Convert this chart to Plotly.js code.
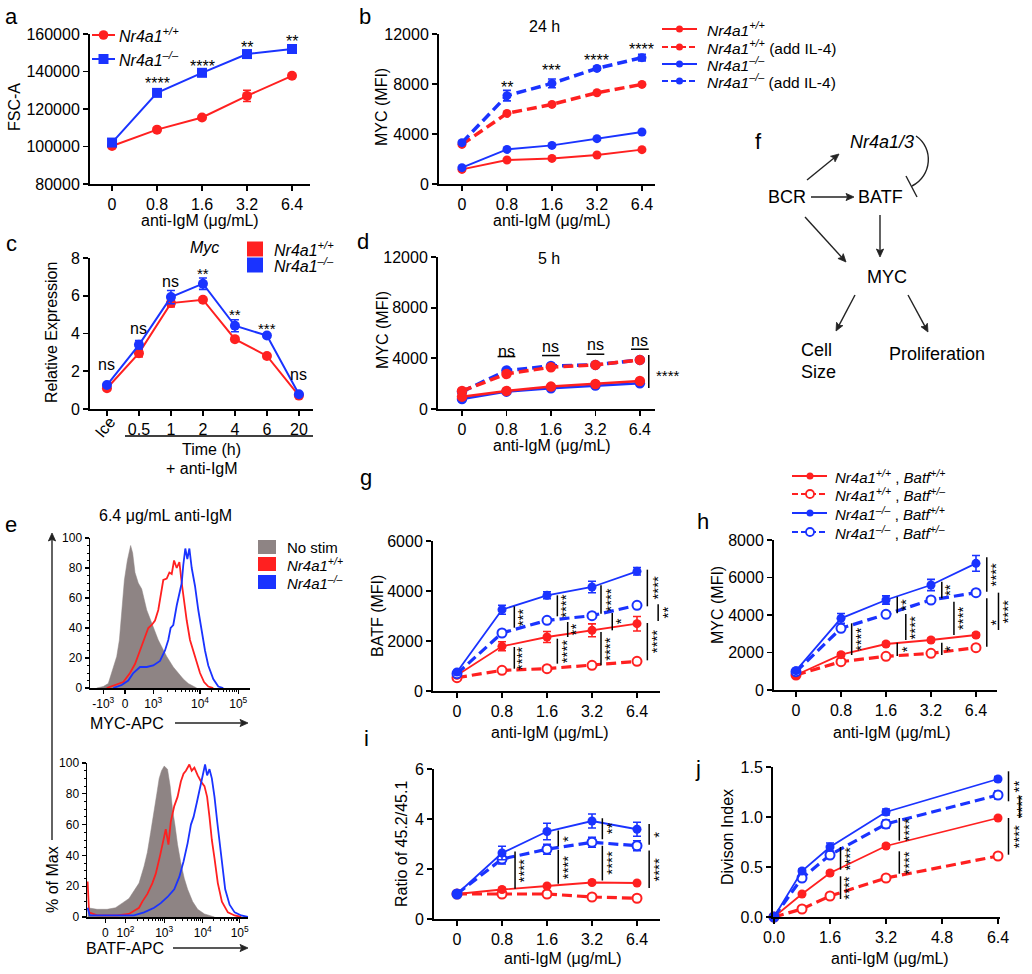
<!DOCTYPE html>
<html><head><meta charset="utf-8">
<script src="https://cdn.plot.ly/plotly-3.0.1.min.js"></script>
<style>html,body{margin:0;padding:0;background:#fff}#chart{width:1032px;height:974px}</style>
</head><body><div id="chart"></div>
<script>
const W=1032,H=974;
const FONT='"Liberation Sans", Arial, Helvetica, sans-serif';
const RED='#ff2020', BLUE='#1a33ff', GRAY='#8e8484', INK='#000';

// ---------------- data ----------------
const doseLabels=['0','0.8','1.6','3.2','6.4'];
const doseValues=[0,0.8,1.6,3.2,6.4];
const timeLabels=['Ice','0.5','1','2','4','6','20'];

// a: FSC-A
const fscWT=[100300,109000,115500,127000,137700];
const fscWTErr=[700,700,700,3000,900];
const fscKO=[102100,128600,139300,149300,152000];
const fscKOErr=[700,1000,900,900,1600];
const fscSigText=['','****','****','**','**'];
const fscSigY=[null,135800,144800,155000,158200];

// b: MYC 24 h
const myc24WT=[1170,1920,2050,2320,2750];
const myc24WTIL4=[3170,5650,6370,7300,7970];
const myc24KO=[1310,2770,3090,3630,4160];
const myc24KOIL4=[3310,7070,8050,9250,10110];
const myc24KOIL4Err=[100,420,350,150,260];
const myc24SigText=['','**','***','****','****'];
const myc24SigY=[null,8100,9400,10200,11100];

// c: Myc relative expression
const mycRelWT=[1.10,2.96,5.61,5.79,3.70,2.81,0.71];
const mycRelWTErr=[0.08,0.2,0.2,0.1,0.1,0.1,0.05];
const mycRelKO=[1.27,3.40,5.93,6.64,4.41,3.89,0.78];
const mycRelKOErr=[0.08,0.22,0.35,0.3,0.32,0.1,0.05];
const mycRelSigText=['ns','ns','ns','**','**','***','ns'];
const mycRelSigY=[2.34,4.28,6.76,7.38,5.2,4.46,1.84];

// d: MYC 5 h
const myc5WT=[976,1424,1767,1978,2215];
const myc5WTIL4=[1424,2769,3297,3481,3877];
const myc5KO=[791,1371,1635,1846,2031];
const myc5KOIL4=[1371,3033,3402,3481,3877];
const myc5NsY=[null,4536,4931,5063,5380];
const myc5NsLineY=[null,4140,4220,4325,4720];
const myc5Sig=[[4.2,4263,1658,'****',4.63]];

// e: histograms (x in display channel units 0-1024, y in % of max)
const mycHistTicks=[85,224,405,704,949];
const mycHistTickText=['-10<sup>3</sup>','0','10<sup>3</sup>','10<sup>4</sup>','10<sup>5</sup>'];
const mycHistDecades=[405,704,949];
const mycNoStimX=[43,85,117,139,171,188,203,220,239,260,273,288,309,331,363,395,437,491,533,565,597,629,683];
const mycNoStimY=[0,1,3,10,21,32,54,72,85,95,90,77,70,66,52,43,32,21,14,10,6,3,0];
const mycWTX=[107,160,213,256,288,320,352,373,395,416,437,454,469,491,508,523,538,555,572,587,602,619,640,661,683,704,730,757,789];
const mycWTY=[0,2,4,10,16,25,35,40,42,45,52,63,72,73,77,76,85,80,84,70,58,45,32,25,17,10,4,1,0];
const mycKOX=[149,203,245,277,320,363,405,448,480,501,516,533,555,572,587,597,610,623,636,651,672,693,715,736,757,789,821,853];
const mycKOY=[0,2,5,10,14,14,15,18,25,32,40,42,55,62,70,82,93,86,93,80,68,52,38,25,15,6,1,0];
const batfHistTicks=[117,245,491,736,971];
const batfHistTickText=['0','10<sup>2</sup>','10<sup>3</sup>','10<sup>4</sup>','10<sup>5</sup>'];
const batfHistDecades=[245,491,736,971];
const batfNoStimX=[4,64,128,181,224,267,299,331,363,384,405,427,444,459,474,491,512,529,544,559,576,597,619,640,672,704,747,811];
const batfNoStimY=[6,5,5,6,9,12,17,22,33,42,55,68,80,90,95,98,96,85,70,60,47,35,25,18,10,5,2,0];
const batfWTX=[4,13,64,192,267,299,331,352,384,416,437,465,486,501,518,533,555,576,597,614,629,651,666,683,704,725,747,764,779,794,811,832,858,896,939,981];
const batfWTY=[23,3,1,1,2,4,6,10,15,22,28,40,50,57,47,62,72,78,88,93,95,99,95,97,92,88,85,78,65,50,38,22,10,3,1,0];
const batfKOX=[4,17,85,299,363,427,469,512,555,587,614,640,661,678,700,721,736,751,764,779,794,811,828,843,860,879,907,939,981,1024];
const batfKOY=[6,1,1,1,3,6,9,13,18,26,36,48,60,65,75,85,93,99,92,96,90,78,62,48,32,18,8,3,1,0];

// g: BATF MFI
const batfWT=[627,1787,2160,2427,2693];      const batfWTErr=[60,180,220,260,290];
const batfWThet=[533,827,893,1027,1187];     const batfWThetErr=[40,50,50,50,50];
const batfKO=[760,3253,3827,4160,4787];      const batfKOErr=[60,180,140,230,150];
const batfKOhet=[693,2320,2827,3013,3427];   const batfKOhetErr=[50,60,60,60,60];
const batfSig=[[1.274,3387,2533,'***',1.378],[1.274,1760,893,'****',1.378],[2.23,3827,2987,'****',2.35],[2.46,2760,2160,'**',2.57],[2.23,2093,1093,'****',2.35],[3.2,4227,3093,'****',3.33],[3.45,3120,2427,'*',3.56],[3.2,2360,1027,'****',3.33],[4.23,4853,3387,'****',4.36],[4.47,3467,2800,'**',4.61],[4.23,2720,1227,'****',4.36]];

// h: MYC MFI
const mycWTb=[800,1884,2453,2667,2933];      const mycWTbErr=[50,100,90,90,100];
const mycWThet=[800,1511,1796,1956,2258];    const mycWThetErr=[50,60,60,60,70];
const mycKOb=[1031,3822,4800,5600,6756];     const mycKObErr=[80,260,220,300,420];
const mycKOhet=[978,3289,4036,4800,5191];    const mycKOhetErr=[50,100,80,80,80];
const mycBSig=[[1.237,3556,1867,'****',1.348],[2.25,4978,4089,'**',2.37],[2.25,2524,1813,'*',2.37],[2.44,4053,2667,'****',2.56],[3.24,5778,4889,'**',3.35],[3.24,2524,1867,'*',3.35],[3.51,4711,2933,'****',3.63],[4.24,7076,5244,'****',4.37],[4.24,4889,2311,'*',4.37],[4.5,5191,3200,'****',4.62]];

// i: ratio 45.2/45.1
const ratioWT=[1.0,1.18,1.32,1.46,1.44];     const ratioWTErr=[0.03,0.06,0.05,0.05,0.05];
const ratioWThet=[1.0,1.0,1.0,0.88,0.83];    const ratioWThetErr=[0.03,0.04,0.04,0.04,0.04];
const ratioKO=[1.0,2.64,3.5,3.92,3.59];      const ratioKOErr=[0.03,0.27,0.33,0.28,0.28];
const ratioKOhet=[1.0,2.4,2.79,3.07,2.93];   const ratioKOhetErr=[0.03,0.2,0.2,0.2,0.2];
const ratioSig=[[1.29,2.70,1.21,'****',1.4],[2.25,3.54,2.90,'*',2.38],[2.25,2.77,1.41,'****',2.38],[3.23,4.03,3.19,'**',3.36],[3.23,2.93,1.54,'****',3.36],[4.27,3.80,2.97,'*',4.4],[4.27,2.74,1.24,'****',4.4]];

// j: division index
const divWT=[0,0.23,0.44,0.71,0.99];         const divWTErr=[0,0.01,0.02,0.02,0.01];
const divWThet=[0,0.08,0.21,0.39,0.61];      const divWThetErr=[0,0.01,0.01,0.02,0.025];
const divKO=[0,0.46,0.70,1.05,1.38];         const divKOErr=[0,0.02,0.04,0.03,0.025];
const divKOhet=[0,0.39,0.62,0.93,1.22];      const divKOhetErr=[0,0.02,0.03,0.04,0.04];
const divSig=[[1.90,0.70,0.473,'****',2.05],[1.90,0.407,0.18,'****',2.05],[3.58,0.99,0.763,'****',3.74],[3.58,0.657,0.433,'****',3.74],[6.70,1.457,1.157,'**',6.88],[7.02,1.213,0.99,'****',7.08],[6.70,0.99,0.623,'****',6.88]];

// ---------------- helpers ----------------
const idx5=doseLabels.map((_,i)=>i);
const idx7=timeLabels.map((_,i)=>i);
const traces=[], ann=[], shapes=[];
const layout={width:W,height:H,margin:{l:0,r:0,t:0,b:0},paper_bgcolor:'#fff',plot_bgcolor:'rgba(0,0,0,0)',showlegend:false,font:{family:FONT,color:INK}};
const P=x=>x/W, Q=y=>1-y/H;
const boxes={};
function axId(n,c){return c+(n===1?'':n);}
function axes(n,xd,yd,xr,yr,xo,yo){
  const base={showline:true,linecolor:INK,linewidth:2,ticks:'outside',ticklen:5,tickwidth:1.8,tickcolor:INK,showgrid:false,zeroline:false,fixedrange:true,automargin:false,tickfont:{family:FONT,size:16,color:INK}};
  layout[axId(n,'xaxis')]=Object.assign({},base,{domain:[xd[0]/W,xd[1]/W],range:xr,anchor:axId(n,'y')},xo||{});
  layout[axId(n,'yaxis')]=Object.assign({},base,{domain:[1-yd[1]/H,1-yd[0]/H],range:yr,anchor:axId(n,'x')},yo||{});
  boxes[n]={xd,yd,xr,yr};
}
// map a data value of panel n to page pixels (same linear mapping as the axes)
function px(n,x){const b=boxes[n];return b.xd[0]+(x-b.xr[0])/(b.xr[1]-b.xr[0])*(b.xd[1]-b.xd[0]);}
function py(n,y){const b=boxes[n];return b.yd[1]-(y-b.yr[0])/(b.yr[1]-b.yr[0])*(b.yd[1]-b.yd[0]);}
function series(n,x,y,color,o){
  o=o||{};
  const t={type:'scatter',mode:'lines+markers',x,y,xaxis:axId(n,'x'),yaxis:axId(n,'y'),
    line:{color,width:o.width||2,dash:o.dash||'solid'},
    marker:{symbol:o.symbol||'circle',size:o.size||9,color:o.open?'#fff':color,line:{color,width:o.open?2:0}},
    cliponaxis:false,hoverinfo:'skip',showlegend:false};
  if(o.err) t.error_y={type:'data',array:o.err,visible:true,color,thickness:1.6,width:4};
  traces.push(t);
}
function txt(x,y,t,o){ann.push(Object.assign({xref:'paper',yref:'paper',x:P(x),y:Q(y),text:t,showarrow:false,font:{family:FONT,size:16,color:INK},xanchor:'center',yanchor:'middle'},o||{}));}
function pline(x0,y0,x1,y1,w,color,dash){shapes.push({type:'line',xref:'paper',yref:'paper',x0:P(x0),y0:Q(y0),x1:P(x1),y1:Q(y1),line:{color:color||INK,width:w||1.5,dash:dash||'solid'}});}
function pdot(cx,cy,r,fill,stroke,sw){shapes.push({type:'circle',xref:'paper',yref:'paper',x0:P(cx-r),x1:P(cx+r),y0:Q(cy+r),y1:Q(cy-r),fillcolor:fill,line:{color:stroke,width:sw||0}});}
function prect(x0,y0,x1,y1,fill){shapes.push({type:'rect',xref:'paper',yref:'paper',x0:P(x0),x1:P(x1),y0:Q(y1),y1:Q(y0),fillcolor:fill,line:{width:0}});}
function arrow(x0,y0,x1,y1){
  const hl=8,hw=3.6,dx=x1-x0,dy=y1-y0,L=Math.hypot(dx,dy),ux=dx/L,uy=dy/L;
  const bx=x1-ux*hl*0.8,by=y1-uy*hl*0.8;
  pline(x0,y0,bx,by,1.4,'#222');
  const cx=x1-ux*hl,cy=y1-uy*hl;
  const lx=cx-uy*hw,ly=cy+ux*hw,rx=cx+uy*hw,ry=cy-ux*hw;
  shapes.push({type:'path',xref:'paper',yref:'paper',path:`M ${P(x1)},${Q(y1)} L ${P(lx)},${Q(ly)} L ${P(bx)},${Q(by)} L ${P(rx)},${Q(ry)} Z`,fillcolor:'#222',line:{color:'#222',width:0.8}});
}
function sigList(n,list,size){list.forEach(s=>{
  const x=px(n,s[0]); pline(x,py(n,s[1]),x,py(n,s[2]),1.5);
  txt(Math.min(px(n,s[4])+size*0.22,W-10.5),py(n,(s[1]+s[2])/2),s[3],{textangle:-90,font:{family:FONT,size,color:INK}});
});}
function stars(n,x,y,label,size){txt(px(n,x),py(n,y)+size*0.27,label,{font:{family:FONT,size,color:INK}});}
// log-decade minor tick positions between consecutive decade channels
function decadeMinors(dec){const out=[];for(let k=0;k<dec.length-1;k++){for(let m=2;m<=9;m++)out.push(dec[k]+Math.log10(m)*(dec[k+1]-dec[k]));}return out;}
const DASH='10px,5px';
const catX=(labels)=>({tickmode:'array',tickvals:labels.map((_,i)=>i),ticktext:labels});
const LBL={family:FONT,size:22,color:INK};

// ---------------- panel a ----------------
axes(1,[90,310],[34,184],[-0.49,4.4],[80000,160000],catX(doseLabels),{dtick:20000,tick0:80000,tickformat:'d'});
series(1,idx5,fscWT,RED,{err:fscWTErr,size:10});
series(1,idx5,fscKO,BLUE,{err:fscKOErr,size:10,symbol:'square'});
idx5.forEach(i=>{if(fscSigText[i])stars(1,i,fscSigY[i],fscSigText[i],16);});
txt(11,16.5,'a',{font:LBL});
txt(15,107,'FSC-A',{textangle:-90});
txt(200,220,'anti-IgM (μg/mL)');
pline(92,35,115,35,2,RED); pdot(103.5,35,4.8,RED,RED);
pline(92,59,115,59,2,BLUE); prect(98.5,54,108.5,64,BLUE);
txt(117,35,'<i>Nr4a1<sup>+/+</sup></i>',{xanchor:'left'});
txt(117,59,'<i>Nr4a1<sup>–/–</sup></i>',{xanchor:'left'});

// ---------------- panel b ----------------
axes(2,[439,655],[34,184],[-0.51,4.29],[0,12000],catX(doseLabels),{dtick:4000,tickformat:'d'});
series(2,idx5,myc24WT,RED,{width:2});
series(2,idx5,myc24KO,BLUE,{width:2});
series(2,idx5,myc24WTIL4,RED,{width:3.5,dash:DASH});
series(2,idx5,myc24KOIL4,BLUE,{width:3.5,dash:DASH,err:myc24KOIL4Err});
idx5.forEach(i=>{if(myc24SigText[i])stars(2,i,myc24SigY[i],myc24SigText[i],16);});
txt(365,16.5,'b',{font:LBL});
txt(544,27,'24 h');
txt(382,107,'MYC (MFI)',{textangle:-90});
txt(552,220,'anti-IgM (μg/mL)');
[[29,RED,'solid','<i>Nr4a1<sup>+/+</sup></i>'],[47,RED,'dash','<i>Nr4a1<sup>+/+</sup></i> (add IL-4)'],[64,BLUE,'solid','<i>Nr4a1<sup>–/–</sup></i>'],[81,BLUE,'dash','<i>Nr4a1<sup>–/–</sup></i> (add IL-4)']].forEach(r=>{
  pline(662,r[0],697,r[0],2,r[1],r[2]==='dash'?'6px,3px':'solid'); pdot(679.5,r[0],3.5,r[1],r[1]);
  txt(705,r[0],r[3],{xanchor:'left',font:{family:FONT,size:15.5,color:INK}});
});

// ---------------- panel c ----------------
axes(3,[90,313],[258,409],[-0.53,6.44],[0,8],{tickmode:'array',tickvals:idx7.slice(1),ticktext:timeLabels.slice(1),minor:{tickmode:'array',tickvals:[0],ticks:'outside',ticklen:5,tickwidth:1.8,tickcolor:INK}},{dtick:2});
series(3,idx7,mycRelWT,RED,{err:mycRelWTErr,size:10});
series(3,idx7,mycRelKO,BLUE,{err:mycRelKOErr,size:10});
idx7.forEach(i=>{const s=mycRelSigText[i]; if(s==='ns') txt(px(3,i),py(3,mycRelSigY[i]),s); else stars(3,i,mycRelSigY[i],s,15);});
txt(105,428,timeLabels[0],{textangle:-50});
pline(125,436,313,436,1.5);
txt(211,449,'Time (h)');
txt(202,468,'+ anti-IgM');
txt(11,243.5,'c',{font:LBL});
txt(204,247,'<i>Myc</i>');
txt(52,333,'Relative Expression',{textangle:-90});
prect(247,241.5,263,256.5,RED); prect(247,257.5,263,272.5,BLUE);
txt(272,249,'<i>Nr4a1<sup>+/+</sup></i>',{xanchor:'left'});
txt(272,265,'<i>Nr4a1<sup>–/–</sup></i>',{xanchor:'left'});

// ---------------- panel d ----------------
axes(4,[438,655],[257,409],[-0.54,4.34],[0,12000],catX(doseLabels),{dtick:4000,tickformat:'d'});
series(4,idx5,myc5KO,BLUE,{width:2.5,size:10.5});
series(4,idx5,myc5KOIL4,BLUE,{width:3.5,size:10.5,dash:DASH});
series(4,idx5,myc5WT,RED,{width:2.5,size:10.5});
series(4,idx5,myc5WTIL4,RED,{width:3.5,size:10.5,dash:DASH});
idx5.forEach(i=>{if(myc5NsY[i]!==null){txt(px(4,i),py(4,myc5NsY[i]),'ns'); pline(px(4,i-0.2),py(4,myc5NsLineY[i]),px(4,i+0.2),py(4,myc5NsLineY[i]),1.5);}});
myc5Sig.forEach(s=>{const x=px(4,s[0]); pline(x,py(4,s[1]),x,py(4,s[2]),1.5); stars(4,s[4],(s[1]+s[2])/2,s[3],15);});
txt(363,241.5,'d',{font:LBL});
txt(549,258,'5 h');
txt(382,330,'MYC (MFI)',{textangle:-90});
txt(552,446,'anti-IgM (μg/mL)');

// ---------------- panel e ----------------
const eX=(tv,tt,mv)=>({tickmode:'array',tickvals:tv,ticktext:tt,linewidth:1.5,ticklen:4,tickwidth:1.3,tickfont:{family:FONT,size:12,color:INK},minor:{tickmode:'array',tickvals:mv,ticks:'outside',ticklen:2.5,tickwidth:1,tickcolor:INK}});
const eY={dtick:20,linewidth:1.5,ticklen:4,tickwidth:1.3,tickfont:{family:FONT,size:12,color:INK},minor:{ticks:'outside',ticklen:2,dtick:5,tickcolor:INK,tickwidth:1}};
axes(5,[90,250],[538,688],[0,1024],[0,100],eX(mycHistTicks,mycHistTickText,decadeMinors(mycHistDecades)),eY);
axes(6,[87,248],[763,917],[0,1024],[0,100],eX(batfHistTicks,batfHistTickText,decadeMinors(batfHistDecades)),eY);
function hist(n,x,y,color,fill){traces.push({type:'scatter',mode:'lines',x,y,xaxis:axId(n,'x'),yaxis:axId(n,'y'),line:{color,width:fill?0.5:1.8},fill:fill?'tozeroy':'none',fillcolor:fill?GRAY:undefined,hoverinfo:'skip',showlegend:false});}
hist(5,mycNoStimX,mycNoStimY,GRAY,true); hist(5,mycWTX,mycWTY,RED); hist(5,mycKOX,mycKOY,BLUE);
hist(6,batfNoStimX,batfNoStimY,GRAY,true); hist(6,batfWTX,batfWTY,RED); hist(6,batfKOX,batfKOY,BLUE);
txt(11,524,'e',{font:LBL});
txt(165,515,'6.4 μg/mL anti-IgM');
txt(127,723,'MYC-APC'); arrow(175,723,248,723);
txt(125,948,'BATF-APC'); arrow(173,948,248,948);
arrow(52,840,52,533);
txt(52,880,'% of Max',{textangle:-90});
prect(258,540,276,554,GRAY); prect(258,557,276,571,RED); prect(258,575,276,589,BLUE);
txt(285,547,'No stim',{xanchor:'left',font:{family:FONT,size:15,color:INK}});
txt(285,564,'<i>Nr4a1<sup>+/+</sup></i>',{xanchor:'left',font:{family:FONT,size:15,color:INK}});
txt(285,582,'<i>Nr4a1<sup>–/–</sup></i>',{xanchor:'left',font:{family:FONT,size:15,color:INK}});

// ---------------- panel f ----------------
const FF={family:FONT,size:18,color:INK};
txt(758,141.5,'f',{font:LBL});
txt(882,142,'<i>Nr4a1/3</i>',{font:FF});
txt(787,197,'BCR',{font:FF});
txt(880,197,'BATF',{font:FF});
txt(887,277,'MYC',{font:FF});
txt(816,350,'Cell',{font:FF});
txt(818,372,'Size',{font:FF});
txt(937,354,'Proliferation',{font:FF});
arrow(807,180,839,154);
arrow(811,197,854,197);
arrow(805,217,846,262);
arrow(880,215,880,257);
arrow(855,295,836,331);
arrow(908,295,928,332);
shapes.push({type:'path',xref:'paper',yref:'paper',path:`M ${P(916)},${Q(136)} C ${P(934)},${Q(148)} ${P(932)},${Q(176)} ${P(912)},${Q(186)}`,line:{color:'#222',width:1.4}});
pline(906,176,917,197,1.4,'#222');

// ---------------- panels g-j ----------------
const legRows=[
  [RED,false,'<i>Nr4a1<sup>+/+</sup></i> , <i>Batf<sup>+/+</sup></i>'],
  [RED,true,'<i>Nr4a1<sup>+/+</sup></i> , <i>Batf<sup>+/–</sup></i>'],
  [BLUE,false,'<i>Nr4a1<sup>–/–</sup></i> , <i>Batf<sup>+/+</sup></i>'],
  [BLUE,true,'<i>Nr4a1<sup>–/–</sup></i> , <i>Batf<sup>+/–</sup></i>']];
function four(n,x,wt,wtE,wth,wthE,ko,koE,koh,kohE){
  series(n,x,wth,RED,{open:true,dash:DASH,width:3.2,err:wthE});
  series(n,x,wt,RED,{width:1.8,err:wtE});
  series(n,x,koh,BLUE,{open:true,dash:DASH,width:3.2,err:kohE});
  series(n,x,ko,BLUE,{width:1.8,err:koE});
}
// g
axes(7,[433,660],[541,691],[-0.533,4.511],[0,6000],catX(doseLabels),{dtick:2000,tickformat:'d'});
four(7,idx5,batfWT,batfWTErr,batfWThet,batfWThetErr,batfKO,batfKOErr,batfKOhet,batfKOhetErr);
sigList(7,batfSig,15);
txt(366,477,'g',{font:LBL});
txt(377,616,'BATF (MFI)',{textangle:-90});
txt(550,732,'anti-IgM (μg/mL)');
// h
axes(8,[774,997],[540,690],[-0.489,4.467],[0,8000],catX(doseLabels),{dtick:2000,tickformat:'d'});
four(8,idx5,mycWTb,mycWTbErr,mycWThet,mycWThetErr,mycKOb,mycKObErr,mycKOhet,mycKOhetErr);
sigList(8,mycBSig,15);
txt(703,521.5,'h',{font:LBL});
txt(717,605,'MYC (MFI)',{textangle:-90});
txt(892,732,'anti-IgM (μg/mL)');
[476,494,513,532].forEach((y,k)=>{const r=legRows[k];
  pline(792,y,827,y,2,r[0],r[1]?'6px,3px':'solid');
  if(r[1]) pdot(810,y,4,'#fff',r[0],1.8); else pdot(810,y,3.5,r[0],r[0]);
  txt(833,y,r[2],{xanchor:'left',font:{family:FONT,size:15,color:INK}});
});
// i
axes(9,[434,660],[769,919],[-0.511,4.511],[0,6],catX(doseLabels),{dtick:2});
four(9,idx5,ratioWT,ratioWTErr,ratioWThet,ratioWThetErr,ratioKO,ratioKOErr,ratioKOhet,ratioKOhetErr);
sigList(9,ratioSig,15);
txt(366,738,'i',{font:LBL});
txt(401,844,'Ratio of 45.2/45.1',{textangle:-90});
txt(563,958,'anti-IgM (μg/mL)');
// j
axes(10,[773,1000],[767,917],[-0.029,6.457],[0,1.5],{dtick:1.6,tick0:0,tickformat:'.1f'},{dtick:0.5,tickformat:'.1f'});
four(10,doseValues,divWT,divWTErr,divWThet,divWThetErr,divKO,divKOErr,divKOhet,divKOhetErr);
sigList(10,divSig,15);
txt(698,768.5,'j',{font:LBL});
txt(727,837,'Divison Index',{textangle:-90});
txt(890,958,'anti-IgM (μg/mL)');

layout.annotations=ann;
layout.shapes=shapes;
Plotly.newPlot('chart',traces,layout,{staticPlot:true,displayModeBar:false});
</script></body></html>
